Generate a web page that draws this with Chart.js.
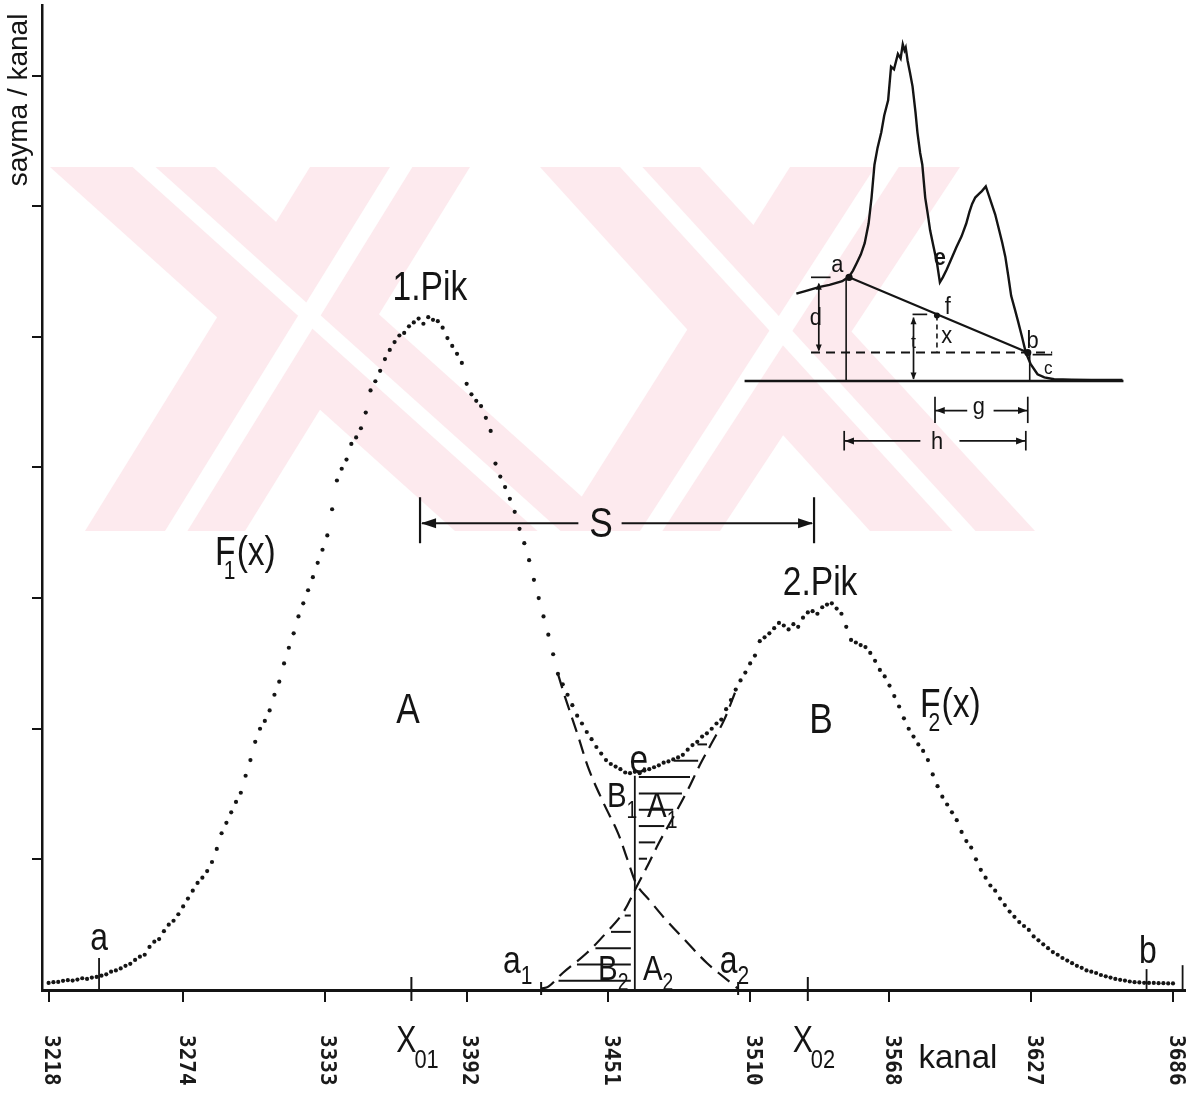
<!DOCTYPE html>
<html lang="tr">
<head>
<meta charset="utf-8">
<title>Pik ayrıştırma</title>
<script src="https://cdn.jsdelivr.net/npm/chart.js@4.4.1/dist/chart.umd.min.js"></script>
<style>
  html, body { margin:0; padding:0; background:#fff; }
  #wrap { position:relative; width:1200px; height:1095px; overflow:hidden; }
  #main { position:absolute; left:0; top:0; }
  #inset { position:absolute; left:735px; top:20px; }
</style>
</head>
<body>
<div id="wrap">
  <canvas id="main" width="1200" height="1095"></canvas>
  <canvas id="inset" width="400" height="445"></canvas>
</div>
<script>
// ================= DATA =================
const xTicks = [3218, 3274, 3333, 3392, 3451, 3510, 3568, 3627, 3686];
const xTickLabels = ['3218', '3274', '3333', '3392', '3451', '3510', '3568', '3627', '3686'];
const yTicks = [1000, 2000, 3000, 4000, 5000, 6000, 7000];
const peakCenters = [3369, 3534];                 // X01, X02
const peakCenterSubs = ['01', '02'];

// total (dotted) spectrum: channel / counts
const kanal = [
  3218,3220,3222,3224,3226,3228,3230,3232,3234,3236,
  3238,3240,3242,3244,3246,3248,3250,3252,3254,3256,
  3258,3260,3262,3264,3266,3268,3270,3272,3274,3276,
  3278,3280,3282,3284,3286,3288,3290,3292,3294,3296,
  3298,3300,3302,3304,3306,3308,3310,3312,3314,3316,
  3318,3320,3322,3324,3326,3328,3330,3332,3334,3336,
  3338,3340,3342,3344,3346,3348,3350,3352,3354,3356,
  3358,3360,3362,3364,3366,3368,3370,3372,3374,3376,
  3378,3380,3382,3384,3386,3388,3390,3392,3394,3396,
  3398,3400,3402,3404,3406,3408,3410,3412,3414,3416,
  3418,3420,3422,3424,3426,3428,3430,3432,3434,3436,
  3438,3440,3442,3444,3446,3448,3450,3452,3454,3456,
  3458,3460,3462,3464,3466,3468,3470,3472,3474,3476,
  3478,3480,3482,3484,3486,3488,3490,3492,3494,3496,
  3498,3500,3502,3504,3506,3508,3510,3512,3514,3516,
  3518,3520,3522,3524,3526,3528,3530,3532,3534,3536,
  3538,3540,3542,3544,3546,3548,3550,3552,3554,3556,
  3558,3560,3562,3564,3566,3568,3570,3572,3574,3576,
  3578,3580,3582,3584,3586,3588,3590,3592,3594,3596,
  3598,3600,3602,3604,3606,3608,3610,3612,3614,3616,
  3618,3620,3622,3624,3626,3628,3630,3632,3634,3636,
  3638,3640,3642,3644,3646,3648,3650,3652,3654,3656,
  3658,3660,3662,3664,3666,3668,3670,3672,3674,3676,
  3678,3680,3682,3684,3686
];
const sayma = [
  54,60,62,70,75,72,80,90,85,95,
  100,110,120,140,150,165,185,200,230,255,
  270,330,370,390,450,500,530,580,640,700,
  760,820,860,910,980,1080,1200,1280,1360,1440,
  1510,1640,1760,1900,2000,2060,2140,2260,2360,2500,
  2620,2730,2860,2960,3060,3160,3270,3370,3480,3680,
  3900,3990,4060,4180,4230,4300,4420,4590,4660,4740,
  4830,4900,4960,5010,5030,5080,5110,5140,5100,5150,
  5130,5120,5070,4990,4930,4870,4800,4640,4560,4510,
  4470,4380,4280,4030,3930,3850,3760,3660,3530,3420,
  3290,3140,3000,2860,2720,2570,2420,2340,2260,2180,
  2100,2040,1975,1920,1860,1810,1760,1730,1710,1690,
  1665,1660,1670,1660,1680,1690,1705,1720,1740,1750,
  1765,1780,1800,1840,1875,1900,1940,1965,2000,2040,
  2070,2150,2220,2300,2370,2430,2500,2560,2670,2700,
  2730,2770,2810,2790,2760,2800,2780,2850,2890,2900,
  2880,2930,2950,2960,2920,2880,2780,2680,2660,2640,
  2625,2580,2520,2450,2400,2330,2250,2170,2080,2000,
  1940,1880,1830,1760,1650,1560,1480,1420,1360,1300,
  1210,1140,1090,1000,920,860,800,760,700,650,
  600,560,520,490,460,410,380,350,320,290,
  270,245,225,205,185,170,150,140,130,115,
  105,95,85,78,72,65,60,58,55,54,
  54,52,52,50,50
];

// dashed tail of peak 1, F1(x)
const f1Kanal = [3430, 3433, 3438, 3443, 3449, 3455, 3459, 3463, 3468, 3475, 3484, 3492, 3502, 3505];
const f1Sayma = [2420, 2240, 1966, 1683, 1431, 1201, 995, 800, 689, 536, 360, 207, 54, 10];
// dashed tail of peak 2, F2(x)
const f2Kanal = [3423, 3426, 3432, 3442, 3450, 3457, 3463, 3467, 3472, 3478, 3484, 3489, 3494, 3499, 3504];
const f2Sayma = [10, 25, 130, 283, 436, 589, 800, 941, 1125, 1324, 1530, 1720, 1890, 2060, 2290];

// separation line at minimum e, limit markers a / b, a1 / a2
const eKanal = 3462, eSayma = 1640;
const limitKanal = [3239, 3675, 3690];
const limitSayma = [245, 160, 190];
const tailEndKanal = [3423, 3505];               // a1, a2
const sArrowKanal = [3372.6, 3536.6];            // S = X02 - X01

// ----- inset spectrum (arbitrary units) -----
const insetKanal = [14.5,17,20.5,23,26.25, 28,29,30,31,32, 33,33.75,34.5,35.3,36.25,
  37,38,38.75,39.5,40.5, 41.2,41.75,42.2,42.5,43, 43.6,44.25,45,45.5,46.2,
  46.75,47.5,48.2,48.75,49.6, 50.5,51.25,52,53,54.2, 55.5,56.8,58,58.8,59.5,
  60.3,61.25,62,63,63.8, 64.5,65.4,66.25,67.2,68, 68.8,69.5,70.4,71.25,72.3,
  73.25,74.5,76.25,78,80.5, 85,90,98];
const insetSayma = [24.5,25.3,26.4,27.0,28.0, 29.3,31.0,33.2,35.5,38.7, 44.2,51.4,60.7,65.5,69.8,
  74.5,78.8,88.2,87.5,91.8, 90.5,94.5,92.8,93.6,89.8, 86.5,82.7,75.5,69.8,64.0,
  60.7,51.4,46.5,42.3,37.8, 33.2,27.7,29.1,31.3,34.3, 37.6,40.6,44.2,47.4,49.7,
  51.5,52.5,53.3,54.6,52.0, 49.7,46.8,43.1,38.9,34.9, 29.2,23.9,20.3,16.8,12.3,
  8.0,4.7,1.9,1.0,0.5, 0.4,0.3,0.3];
const insetBaseKanal = [1.25, 98.25];
const insetAB = { kanal: [28, 73.75], sayma: [29.1, 8.0] };   // a -> b background line
const insetF = { kanal: 50.5, sayma: 18.4 };
const insetLevelB = 8.0;                                       // level of b (dashed)

// ================= HELPERS =================
const ink = '#141414';
const FONT = '"Liberation Sans", Arial, sans-serif';

function crossAt(xs, ys, v, xmin = -Infinity, xmax = Infinity) {
  for (let i = 0; i < xs.length - 1; i++) {
    if (xs[i] < xmin || xs[i + 1] > xmax) continue;
    const a = ys[i], b = ys[i + 1];
    if (a === b) continue;
    if ((a - v) * (b - v) <= 0) return xs[i] + (v - a) / (b - a) * (xs[i + 1] - xs[i]);
  }
  return null;
}
function txt(ctx, s, px, py, size, align = 'center', squeeze = 0.84, weight = '') {
  ctx.save();
  ctx.font = `${weight} ${size}px ${FONT}`;
  ctx.textBaseline = 'alphabetic';
  ctx.textAlign = align;
  ctx.translate(px, py);
  ctx.scale(squeeze, 1);
  ctx.fillText(s, 0, 0);
  const w = ctx.measureText(s).width * squeeze;
  ctx.restore();
  return w;
}
function subTxt(ctx, main, sub, px, py, size) {
  const w = txt(ctx, main, px, py, size, 'left');
  txt(ctx, sub, px + w, py + size * 0.3, Math.round(size * 0.66), 'left');
}
function fTxt(ctx, sub, px, py, size) {
  const w = txt(ctx, 'F', px, py, size, 'left');
  txt(ctx, sub, px + w * 0.42, py + size * 0.34, Math.round(size * 0.62), 'left');
  txt(ctx, '(x)', px + w + 1, py, size, 'left');
}
function seg(ctx, x1, y1, x2, y2) { ctx.beginPath(); ctx.moveTo(x1, y1); ctx.lineTo(x2, y2); ctx.stroke(); }
function head(ctx, x, y, dx, dy, len = 12, w = 4.5) {
  const L = Math.hypot(dx, dy), ux = dx / L, uy = dy / L;
  ctx.beginPath();
  ctx.moveTo(x, y);
  ctx.lineTo(x - ux * len - uy * w, y - uy * len + ux * w);
  ctx.lineTo(x - ux * len + uy * w, y - uy * len - ux * w);
  ctx.closePath(); ctx.fill();
}

// ---------- decorative background watermark (pale pink) ----------
const wmTop = 167, wmBottom = 531;
const wmBands = [[50, 215, 455, 620], [310, 470, 85, 245], [540, 700, 870, 1035], [790, 960, 560, 720]];
function quad(ctx, tl, tr, bl, br) {
  ctx.beginPath(); ctx.moveTo(tl, wmTop); ctx.lineTo(tr, wmTop); ctx.lineTo(br, wmBottom); ctx.lineTo(bl, wmBottom); ctx.closePath(); ctx.fill();
}
const wmPlugin = {
  id: 'wm',
  beforeDraw(chart) {
    const ctx = chart.ctx;
    ctx.save();
    ctx.fillStyle = '#fff'; ctx.fillRect(0, 0, chart.width, chart.height);
    ctx.fillStyle = '#fdeaee';
    wmBands.forEach(b => quad(ctx, b[0], b[1], b[2], b[3]));
    ctx.fillStyle = '#fff';
    wmBands.forEach(b => {
      const w1 = b[1] - b[0], w2 = b[3] - b[2];
      quad(ctx, b[0] + w1 * 0.5, b[0] + w1 * 0.64, b[2] + w2 * 0.5, b[2] + w2 * 0.64);
    });
    ctx.restore();
  }
};

// ---------- annotations on the main chart ----------
const mainLabels = [
  { t: '1.Pik', k: 3376.7, v: 5279, size: 40 },
  { t: '2.Pik', k: 3539.1, v: 3022, size: 40 },
  { t: 'S', k: 3447.9, v: 3466, size: 42 },
  { t: 'A', k: 3367.6, v: 2043, size: 42 },
  { t: 'B', k: 3539.5, v: 1966, size: 42 },
  { t: 'e', k: 3463.7, v: 1660, size: 40 },
  { t: 'a', k: 3239, v: 306, size: 38 },
  { t: 'b', k: 3675.6, v: 207, size: 38 }
];
const mainSubLabels = [
  { t: 'B', s: '1', k: 3450.4, v: 1400, size: 35 },
  { t: 'A', s: '1', k: 3467.1, v: 1324, size: 35 },
  { t: 'B', s: '2', k: 3446.7, v: 77, size: 35 },
  { t: 'A', s: '2', k: 3465.4, v: 77, size: 35 },
  { t: 'a', s: '1', k: 3407.1, v: 130, size: 38 },
  { t: 'a', s: '2', k: 3497.4, v: 130, size: 38 }
];
const fLabels = [{ s: '1', k: 3287.3, v: 3252, size: 40 }, { s: '2', k: 3580.7, v: 2089, size: 40 }];

const annotPlugin = {
  id: 'annot',
  afterDraw(chart) {
    const { ctx, scales: { x, y }, chartArea } = chart;
    const X = v => x.getPixelForValue(v), Y = v => y.getPixelForValue(v);
    ctx.save();
    ctx.fillStyle = ink; ctx.strokeStyle = ink; ctx.lineCap = 'butt';

    // hatching right of e (between total curve and F2 tail)
    ctx.lineWidth = 2;
    for (let v = 880; v <= 2300; v += 125) {
      const xr = crossAt(f2Kanal, f2Sayma, v);
      if (xr == null) continue;
      let xl = eKanal;
      const xd = crossAt(kanal, sayma, v, eKanal, 3530);
      if (xd != null) xl = Math.max(xl, xd);
      const p1 = X(xl) + 4, p2 = X(xr) - 4;
      if (p2 - p1 > 5) seg(ctx, p1, Y(v), p2, Y(v));
    }
    // hatching B2 (left of e, under F2 tail)
    for (let v = 70; v <= 760; v += 125) {
      const xl = crossAt(f2Kanal, f2Sayma, v);
      if (xl == null) continue;
      const p1 = X(xl) + 4, p2 = X(eKanal) - 4;
      if (p2 - p1 > 5) seg(ctx, p1, Y(v), p2, Y(v));
    }

    // x tick labels, rotated
    ctx.font = `bold 21px "DejaVu Sans Mono", monospace`;
    ctx.fillStyle = '#1a1a1a';
    xTicks.forEach((v, i) => {
      ctx.save();
      ctx.translate(X(v) + 2, chartArea.bottom + 45);
      ctx.rotate(Math.PI / 2);
      ctx.textAlign = 'left'; ctx.textBaseline = 'middle';
      ctx.fillText(xTickLabels[i], 0, 0);
      ctx.restore();
    });
    ctx.fillStyle = ink;

    // X01 / X02 ticks and labels
    ctx.lineWidth = 2;
    peakCenters.forEach((v, i) => {
      const px = X(v);
      seg(ctx, px, chartArea.bottom - 13, px, chartArea.bottom + 11);
      txt(ctx, 'X', px - 5, chartArea.bottom + 62, 36, 'center');
      txt(ctx, peakCenterSubs[i], px + 3, chartArea.bottom + 78, 26, 'left');
    });
    // a1, a2 small ticks
    tailEndKanal.forEach(v => seg(ctx, X(v), chartArea.bottom - 8, X(v), chartArea.bottom + 5));

    // S arrow between peak centres
    ctx.lineWidth = 2.2;
    const sy = Y(3573), sTop = Y(3772), sBot = Y(3420);
    const xa = X(sArrowKanal[0]), xb = X(sArrowKanal[1]);
    seg(ctx, xa, sTop, xa, sBot);
    seg(ctx, xb, sTop, xb, sBot);
    seg(ctx, xa + 2, sy, X(3438.5), sy);
    seg(ctx, X(3456.5), sy, xb - 2, sy);
    head(ctx, xa + 1, sy, -1, 0, 15, 5);
    head(ctx, xb - 1, sy, 1, 0, 15, 5);

    // text labels
    mainLabels.forEach(l => txt(ctx, l.t, X(l.k), Y(l.v), l.size, 'center'));
    mainSubLabels.forEach(l => subTxt(ctx, l.t, l.s, X(l.k), Y(l.v), l.size));
    fLabels.forEach(l => fTxt(ctx, l.s, X(l.k), Y(l.v), l.size));

    // axis titles
    txt(ctx, 'kanal', X(3596.5), chartArea.bottom + 78, 33, 'center', 1);
    ctx.save();
    ctx.translate(27, 100);
    ctx.rotate(-Math.PI / 2);
    ctx.font = `28px ${FONT}`;
    ctx.textAlign = 'center'; ctx.textBaseline = 'alphabetic';
    ctx.fillText('sayma / kanal', 0, 0);
    ctx.restore();

    ctx.restore();
  }
};

// ================= MAIN CHART =================
const pts = (xs, ys) => xs.map((k, i) => ({ x: k, y: ys[i] }));
const lineDs = (label, data, extra = {}) => Object.assign({
  label, data, showLine: true, borderColor: ink, borderWidth: 2, pointRadius: 0, pointHoverRadius: 0, fill: false
}, extra);

const mainDatasets = [
  { label: 'sayma', data: pts(kanal, sayma), showLine: false, pointRadius: 2.1, pointHoverRadius: 2.1,
    pointBackgroundColor: '#151515', pointBorderWidth: 0 },
  lineDs('F1(x)', pts(f1Kanal, f1Sayma), { borderDash: [15, 8], borderWidth: 2.2, tension: 0.35 }),
  lineDs('F2(x)', pts(f2Kanal, f2Sayma), { borderDash: [15, 8], borderWidth: 2.2, tension: 0.35 }),
  lineDs('e', [{ x: eKanal, y: 0 }, { x: eKanal, y: eSayma }], { borderWidth: 1.8 })
];
limitKanal.forEach((k, i) => mainDatasets.push(lineDs('sınır', [{ x: k, y: 0 }, { x: k, y: limitSayma[i] }], { borderWidth: 1.8 })));

new Chart(document.getElementById('main'), {
  type: 'scatter',
  data: { datasets: mainDatasets },
  options: {
    responsive: false, animation: false, devicePixelRatio: 1,
    layout: { padding: { left: 32, right: 15, top: 5, bottom: 93 } },
    plugins: { legend: { display: false }, tooltip: { enabled: false } },
    scales: {
      x: {
        type: 'linear', min: 3215.25, max: 3691,
        afterBuildTicks: ax => { ax.ticks = xTicks.map(v => ({ value: v })); },
        ticks: { display: false },
        grid: { drawOnChartArea: false, drawTicks: true, tickLength: 12, color: ink, lineWidth: 2 },
        border: { display: true, color: ink, width: 3 }
      },
      y: {
        type: 'linear', min: 0, max: 7540,
        afterBuildTicks: ax => { ax.ticks = yTicks.map(v => ({ value: v })); },
        ticks: { display: false },
        grid: { drawOnChartArea: false, drawTicks: true, tickLength: 10, color: ink, lineWidth: 2 },
        border: { display: true, color: ink, width: 2.5 }
      }
    }
  },
  plugins: [wmPlugin, annotPlugin]
});

// ================= INSET CHART =================
const insetLabels = [
  { t: 'a', k: 25, v: 30.5 }, { t: 'e', k: 51.25, v: 32.7, w: 'bold' }, { t: 'f', k: 53.25, v: 18.7 },
  { t: 'x', k: 53, v: 10.7 }, { t: 'b', k: 75, v: 9.3 }, { t: 'c', k: 79, v: 1.9, size: 18 },
  { t: 'd', k: 19.5, v: 15.7 }, { t: 't', k: 44.5, v: 9.3, size: 19 }, { t: 'g', k: 61.25, v: -9.3 },
  { t: 'h', k: 50.5, v: -19 }
];
const insetAnnot = {
  id: 'insetAnnot',
  afterDraw(chart) {
    const { ctx, scales: { x, y } } = chart;
    const X = v => x.getPixelForValue(v), Y = v => y.getPixelForValue(v);
    ctx.save();
    ctx.fillStyle = ink; ctx.strokeStyle = ink; ctx.lineWidth = 1.7;
    // d : level of a above level of b
    seg(ctx, X(18.25), Y(29.1), X(23.25), Y(29.1));
    seg(ctx, X(20.25), Y(27.3), X(20.25), Y(insetLevelB + 0.6));
    head(ctx, X(20.25), Y(27.6), 0, -1, 7, 3);
    head(ctx, X(20.25), Y(insetLevelB + 0.3), 0, 1, 7, 3);
    // t : level of f above baseline
    seg(ctx, X(44.25), Y(18.7), X(48), Y(18.7));
    seg(ctx, X(44.5), Y(17.8), X(44.5), Y(0.6));
    head(ctx, X(44.5), Y(17.9), 0, -1, 7, 3);
    head(ctx, X(44.5), Y(0.4), 0, 1, 7, 3);
    // g
    [50, 73.75].forEach(k => seg(ctx, X(k), Y(-4.4), X(k), Y(-11.8)));
    seg(ctx, X(50), Y(-8.3), X(58.25), Y(-8.3));
    seg(ctx, X(65), Y(-8.3), X(73.75), Y(-8.3));
    head(ctx, X(50.2), Y(-8.3), -1, 0, 9, 3.5);
    head(ctx, X(73.55), Y(-8.3), 1, 0, 9, 3.5);
    // h
    [26.75, 73.25].forEach(k => seg(ctx, X(k), Y(-14), X(k), Y(-19.5)));
    seg(ctx, X(26.75), Y(-16.8), X(46.25), Y(-16.8));
    seg(ctx, X(56.25), Y(-16.8), X(73.25), Y(-16.8));
    head(ctx, X(26.95), Y(-16.8), -1, 0, 9, 3.5);
    head(ctx, X(73.05), Y(-16.8), 1, 0, 9, 3.5);
    // c tick
    seg(ctx, X(75), Y(7.4), X(80), Y(7.4));
    insetLabels.forEach(l => txt(ctx, l.t, X(l.k), Y(l.v), l.size || 23, 'center', 0.95, l.w || ''));
    ctx.restore();
  }
};

new Chart(document.getElementById('inset'), {
  type: 'scatter',
  data: {
    datasets: [
      lineDs('iç spektrum', pts(insetKanal, insetSayma), { borderWidth: 2.4 }),
      lineDs('taban', [{ x: insetBaseKanal[0], y: 0 }, { x: insetBaseKanal[1], y: 0 }], { borderWidth: 2.4 }),
      lineDs('a-b', pts(insetAB.kanal, insetAB.sayma), { borderWidth: 2.2, pointRadius: 2.5, pointBackgroundColor: ink }),
      lineDs('a dikey', [{ x: 27.25, y: 0 }, { x: 27.25, y: 28.6 }], { borderWidth: 1.6 }),
      lineDs('b dikey', [{ x: 74.25, y: 0 }, { x: 74.25, y: insetLevelB }], { borderWidth: 1.6 }),
      lineDs('b seviyesi', [{ x: 18.25, y: insetLevelB }, { x: 80, y: insetLevelB }], { borderWidth: 1.8, borderDash: [9, 6] }),
      lineDs('f dikey', [{ x: insetF.kanal, y: insetF.sayma }, { x: insetF.kanal, y: insetLevelB }], { borderWidth: 1.6, borderDash: [5, 4] }),
      { label: 'f', data: [{ x: insetF.kanal, y: insetF.sayma }], showLine: false, pointRadius: 3, pointBackgroundColor: ink, pointBorderWidth: 0 }
    ]
  },
  options: {
    responsive: false, animation: false, devicePixelRatio: 1,
    layout: { padding: 0 },
    plugins: { legend: { display: false }, tooltip: { enabled: false } },
    scales: {
      x: { type: 'linear', min: 0, max: 100, display: false },
      y: { type: 'linear', min: -22.25, max: 100, display: false }
    }
  },
  plugins: [insetAnnot]
});
</script>
</body>
</html>
